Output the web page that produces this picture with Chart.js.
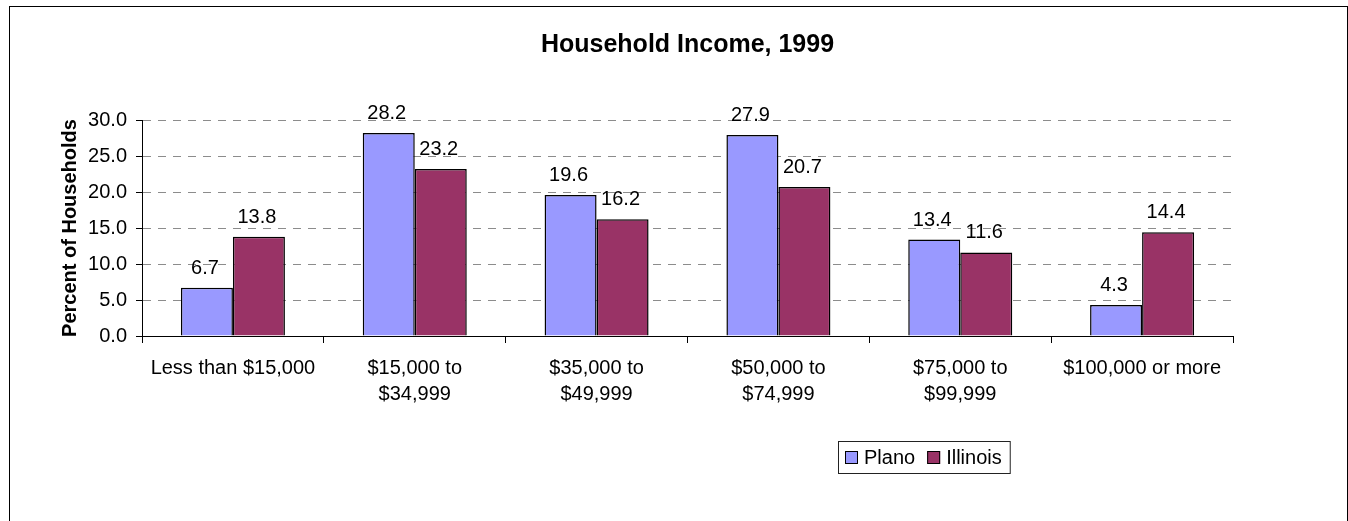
<!DOCTYPE html>
<html>
<head>
<meta charset="utf-8">
<script src="https://cdn.jsdelivr.net/npm/chart.js@4/dist/chart.umd.min.js"></script>
<style>
  body { margin: 0; background: #fff; }
</style>
</head>
<body>
<canvas id="myChartBar" width="1348" height="521"></canvas>
<script>
// data
const categories = [
  'Less than $15,000',
  ['$15,000 to', '$34,999'],
  ['$35,000 to', '$49,999'],
  ['$50,000 to', '$74,999'],
  ['$75,000 to', '$99,999'],
  '$100,000 or more'
];
const planoList = [6.7, 28.2, 19.6, 27.9, 13.4, 4.3];
const illinoisList = [13.8, 23.2, 16.2, 20.7, 11.6, 14.4];
const yMin = 0;
const yMax = 30;
const yStep = 5;

const FONT = '"Liberation Sans", Arial, sans-serif';

// white page + thin frame round the whole chart
const frame = {
  id: 'frame',
  beforeDraw(chart) {
    const { ctx, width, height } = chart;
    ctx.save();
    ctx.fillStyle = '#fff';
    ctx.fillRect(0, 0, width, height);
    ctx.strokeStyle = '#000';
    ctx.lineWidth = 1;
    ctx.strokeRect(9.5, 6.5, width - 10, height + 10);
    ctx.restore();
  }
};

// value over each bar
const barValues = {
  id: 'barValues',
  afterDatasetsDraw(chart) {
    const { ctx } = chart;
    ctx.save();
    ctx.font = `20px ${FONT}`;
    ctx.fillStyle = '#000';
    ctx.textAlign = 'center';
    ctx.textBaseline = 'alphabetic';
    chart.data.datasets.forEach((ds, i) => {
      chart.getDatasetMeta(i).data.forEach((bar, j) => {
        ctx.fillText(ds.data[j].toFixed(1), bar.x - 2, bar.y - 14);
      });
    });
    ctx.restore();
  }
};

// boxed legend like the spreadsheet one
const boxLegend = {
  id: 'boxLegend',
  afterDraw(chart, args, opts) {
    const { ctx } = chart;
    ctx.save();
    ctx.font = `20px ${FONT}`;
    ctx.textBaseline = 'alphabetic';
    const x0 = opts.x, y0 = opts.y, h = 32, sw = 13;
    let cur = x0 + 7;
    chart.data.datasets.forEach((ds) => {
      ctx.fillStyle = ds.backgroundColor;
      ctx.fillRect(cur, y0 + 10, sw, sw);
      ctx.strokeStyle = '#000';
      ctx.lineWidth = 1;
      ctx.strokeRect(cur + 0.5, y0 + 10.5, sw - 1, sw - 1);
      ctx.fillStyle = '#000';
      ctx.fillText(ds.label, cur + 19, y0 + 23);
      cur += 19 + ctx.measureText(ds.label).width + 12;
    });
    const w = cur - 12 + 8 - x0;
    ctx.strokeStyle = '#222';
    ctx.strokeRect(x0 + 0.5, y0 + 0.5, w, h);
    ctx.restore();
  }
};

const dataBar = {
  labels: categories,
  datasets: [
    {
      label: 'Plano',
      data: planoList,
      backgroundColor: '#9999ff',
      borderColor: '#000',
      borderWidth: 1.5
    },
    {
      label: 'Illinois',
      data: illinoisList,
      backgroundColor: '#993366',
      borderColor: '#000',
      borderWidth: 1.5
    }
  ]
};

const configBar = {
  type: 'bar',
  data: dataBar,
  options: {
    responsive: false,
    animation: false,
    layout: {
      padding: { left: 9, right: 115, top: 0, bottom: 102 }
    },
    datasets: {
      bar: {
        categoryPercentage: 0.572,
        barPercentage: 1.0
      }
    },
    plugins: {
      legend: { display: false },
      tooltip: { enabled: false },
      title: {
        display: true,
        fullSize: false,
        text: 'Household Income, 1999',
        color: '#000',
        font: { family: FONT, size: 25, weight: 'bold', lineHeight: 1.2 },
        padding: { top: 30, bottom: 60 }
      },
      boxLegend: { x: 838, y: 441 }
    },
    scales: {
      x: {
        grid: {
          display: true,
          drawOnChartArea: false,
          offset: true,
          tickLength: 7,
          tickColor: '#000'
        },
        border: { color: '#000', width: 1 },
        ticks: {
          color: '#000',
          padding: 12,
          maxRotation: 0,
          autoSkip: false,
          font: { family: FONT, size: 20, lineHeight: 1.3 }
        }
      },
      y: {
        min: yMin,
        max: yMax,
        afterFit(scale) {
          scale.width = 133;
        },
        grid: {
          color: '#8c8c8c',
          tickColor: '#000',
          tickLength: 6
        },
        border: { color: '#000', width: 1, dash: [8, 7] },
        ticks: {
          stepSize: yStep,
          color: '#000',
          padding: 9,
          font: { family: FONT, size: 20 },
          callback: (v) => v.toFixed(1)
        },
        title: {
          display: true,
          text: 'Percent of Households',
          color: '#000',
          font: { family: FONT, size: 20, weight: 'bold', lineHeight: 1.2 },
          padding: { top: 49, bottom: 6 }
        }
      }
    }
  },
  plugins: [frame, barValues, boxLegend]
};

const myChartBar = new Chart(
  document.getElementById('myChartBar'),
  configBar
);
</script>
</body>
</html>
